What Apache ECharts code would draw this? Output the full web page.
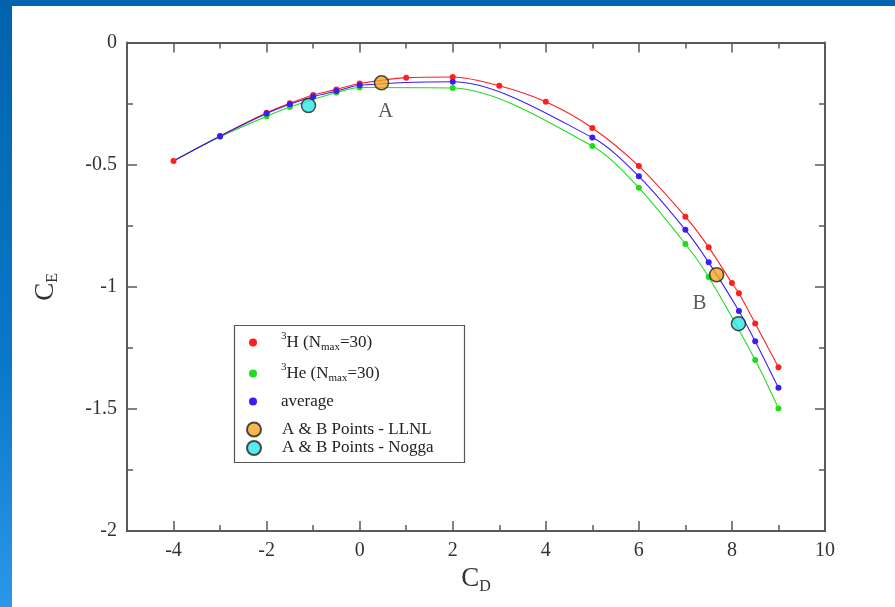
<!DOCTYPE html>
<html>
<head>
<meta charset="utf-8">
<script src="https://cdn.jsdelivr.net/npm/echarts@6/dist/echarts.min.js"></script>
<style>
  html, body { margin: 0; padding: 0; width: 895px; height: 607px; overflow: hidden;
    background: linear-gradient(to bottom, #0063ad 0%, #0a78c8 60%, #2a98e6 100%); }
  #chart { position: absolute; left: 12px; top: 6px; width: 883px; height: 601px; background: #ffffff; }
</style>
</head>
<body>
<div id="chart"></div>
<script>
// ---- data ----
var seriesNames = ['3H (Nmax=30)', '3He (Nmax=30)', 'average', 'A & B Points - LLNL', 'A & B Points - Nogga'];

var xH = [-4, -3, -2, -1.5, -1, -0.5, 0, 1, 2, 3, 4, 5, 6, 7, 7.5, 8, 8.15, 8.5, 9];
var yH = [-0.485, -0.383, -0.288, -0.249, -0.215, -0.192, -0.168, -0.144, -0.141, -0.177, -0.243, -0.35, -0.506, -0.713, -0.838, -0.985, -1.027, -1.15, -1.33];

var xHe = [-4, -3, -2, -1.5, -0.5, 0, 2, 5, 6, 7, 7.5, 8.5, 9];
var yHe = [-0.485, -0.386, -0.302, -0.264, -0.205, -0.184, -0.186, -0.424, -0.595, -0.825, -0.96, -1.30, -1.498];

var xAvg = [-4, -3, -2, -1.5, -1, -0.5, 0, 2, 5, 6, 7, 7.5, 8.15, 8.5, 9];
var yAvg = [-0.485, -0.384, -0.291, -0.253, -0.222, -0.199, -0.175, -0.161, -0.389, -0.548, -0.767, -0.90, -1.099, -1.223, -1.414];

var xLLNL = [0.47, 7.67];
var yLLNL = [-0.165, -0.951];
var xNogga = [-1.1, 8.14];
var yNogga = [-0.258, -1.151];
var pointLabels = ['A', 'B'];

var xMajorTicks = [-4, -2, 0, 2, 4, 6, 8, 10];
var xMinorTicks = [-5, -3, -1, 1, 3, 5, 7, 9];
var yMajorTicks = [0, -0.5, -1, -1.5, -2];

// ---- build ----
function pairs(xs, ys, hideFirstSymbol) {
  return xs.map(function (x, i) {
    if (hideFirstSymbol && i === 0) return { value: [x, ys[i]], symbol: 'none' };
    return [x, ys[i]];
  });
}

var serif = '"Liberation Serif", "DejaVu Serif", serif';
var axisColor = '#5a5a5a';

function xAx(pos, ticks, len, labels) {
  return {
    type: 'value', min: -5, max: 10, position: pos,
    axisLine: { show: true, onZero: false, lineStyle: { color: axisColor, width: 2 } },
    axisTick: { show: true, inside: true, length: len, customValues: ticks, lineStyle: { color: axisColor, width: 1.5 } },
    axisLabel: labels ? { show: true, customValues: ticks, fontFamily: serif, fontSize: 20, color: '#333', margin: 10 } : { show: false },
    splitLine: { show: false }
  };
}
function yAx(pos, labels) {
  return {
    type: 'value', min: -2, max: 0, position: pos,
    axisLine: { show: true, onZero: false, lineStyle: { color: axisColor, width: 2 } },
    axisTick: { show: true, inside: true, length: 10, customValues: yMajorTicks, lineStyle: { color: axisColor, width: 1.5 } },
    axisLabel: labels ? { show: true, customValues: yMajorTicks, fontFamily: serif, fontSize: 20, color: '#333', margin: 10 } : { show: false },
    splitLine: { show: false }
  };
}
function yMinorAx(pos, ticks) {
  return {
    type: 'value', min: -2, max: 0, position: pos,
    axisLine: { show: false, onZero: false },
    axisTick: { show: true, inside: true, length: 6, customValues: ticks, lineStyle: { color: axisColor, width: 1.5 } },
    axisLabel: { show: false },
    splitLine: { show: false }
  };
}
var yMinorTicks = [-0.25, -0.75, -1.25, -1.75];

var xMain = xAx('bottom', xMajorTicks, 10, true);
xMain.name = '{c|C}{s|D}';
xMain.nameLocation = 'middle';
xMain.nameGap = 26;
xMain.nameTextStyle = { rich: {
  c: { fontFamily: serif, fontSize: 27, color: '#333' },
  s: { fontFamily: serif, fontSize: 16, color: '#333', padding: [14, 0, 0, 0] }
} };

var yMain = yAx('left', true);
yMain.name = '{c|C}{s|E}';
yMain.nameLocation = 'middle';
yMain.nameGap = 66;
yMain.nameRotate = 90;
yMain.nameTextStyle = { rich: {
  c: { fontFamily: serif, fontSize: 27, color: '#333' },
  s: { fontFamily: serif, fontSize: 16, color: '#333', padding: [14, 0, 0, 0] }
} };

var legendRich = {
  g: { width: 19 },
  n: { fontFamily: serif, fontSize: 17, color: '#222', lineHeight: 22 },
  sup: { fontFamily: serif, fontSize: 11, color: '#222', lineHeight: 12, padding: [0, 0, 12, 0] },
  sub: { fontFamily: serif, fontSize: 11, color: '#222', lineHeight: 12, padding: [10, 0, 0, 0] }
};
function legendFmt(name) {
  if (name === seriesNames[0]) return '{g| }{sup|3}{n|H (N}{sub|max}{n|=30)}';
  if (name === seriesNames[1]) return '{g| }{sup|3}{n|He (N}{sub|max}{n|=30)}';
  return '{g| }{n|' + name + '}';
}

function lineSeries(name, data, color) {
  return {
    name: name, type: 'line', data: data, smooth: 0.3,
    symbol: 'circle', symbolSize: 6,
    itemStyle: { color: color },
    lineStyle: { color: color, width: 1.1 },
    xAxisIndex: 0, yAxisIndex: 0, z: 3
  };
}
function markerSeries(name, xs, ys, color, withLabels) {
  return {
    name: name, type: 'scatter', symbol: 'circle', symbolSize: 14,
    itemStyle: { color: color, borderColor: '#222', borderWidth: 1.5 },
    data: xs.map(function (x, i) {
      var d = { value: [x, ys[i]] };
      if (withLabels) {
        d.label = { show: true, formatter: pointLabels[i], position: 'bottom', distance: 10,
          offset: i === 0 ? [4, 0] : [-17, 0],
          fontFamily: serif, fontSize: 21, color: '#333' };
      }
      return d;
    }),
    xAxisIndex: 0, yAxisIndex: 0, z: 5
  };
}

var option = {
  animation: false,
  grid: { left: 115, top: 36.5, width: 698, height: 488.5 },
  xAxis: [
    xMain,
    xAx('bottom', xMinorTicks, 6, false),
    xAx('top', xMajorTicks, 10, false),
    xAx('top', xMinorTicks, 6, false)
  ],
  yAxis: [yMain, yMinorAx('left', yMinorTicks), yAx('right', false), yMinorAx('right', yMinorTicks)],
  legend: [
    {
      data: seriesNames.slice(0, 3), orient: 'vertical', left: 237, top: 325,
      itemWidth: 8, itemHeight: 8, itemGap: 8, padding: 0, icon: 'circle', selectedMode: false,
      formatter: legendFmt, textStyle: { rich: legendRich }
    },
    {
      data: seriesNames.slice(3), orient: 'vertical', left: 234, top: 415,
      itemWidth: 14, itemHeight: 14, itemGap: 1.5, padding: 0, icon: 'circle', selectedMode: false,
      formatter: function (name) { return '{h| }{n|' + name + '}'; },
      textStyle: { rich: {
        h: { width: 16 },
        n: { fontFamily: serif, fontSize: 17, color: '#222', lineHeight: 18 }
      } }
    }
  ],
  graphic: [{
    type: 'rect', left: 220, top: 317, z: 10, silent: true,
    shape: { width: 230, height: 137 },
    style: { fill: 'none', stroke: '#555', lineWidth: 1.2 }
  }],
  series: [
    lineSeries(seriesNames[0], pairs(xH, yH, false), '#ff1f1f'),
    lineSeries(seriesNames[1], pairs(xHe, yHe, true), '#1fdc1f'),
    lineSeries(seriesNames[2], pairs(xAvg, yAvg, true), '#3a1cf5'),
    markerSeries(seriesNames[3], xLLNL, yLLNL, '#f5a623', true),
    markerSeries(seriesNames[4], xNogga, yNogga, '#2ee6e6', false)
  ]
};

var chart = echarts.init(document.getElementById('chart'), null, { renderer: 'canvas' });
chart.setOption(option);
</script>
</body>
</html>
